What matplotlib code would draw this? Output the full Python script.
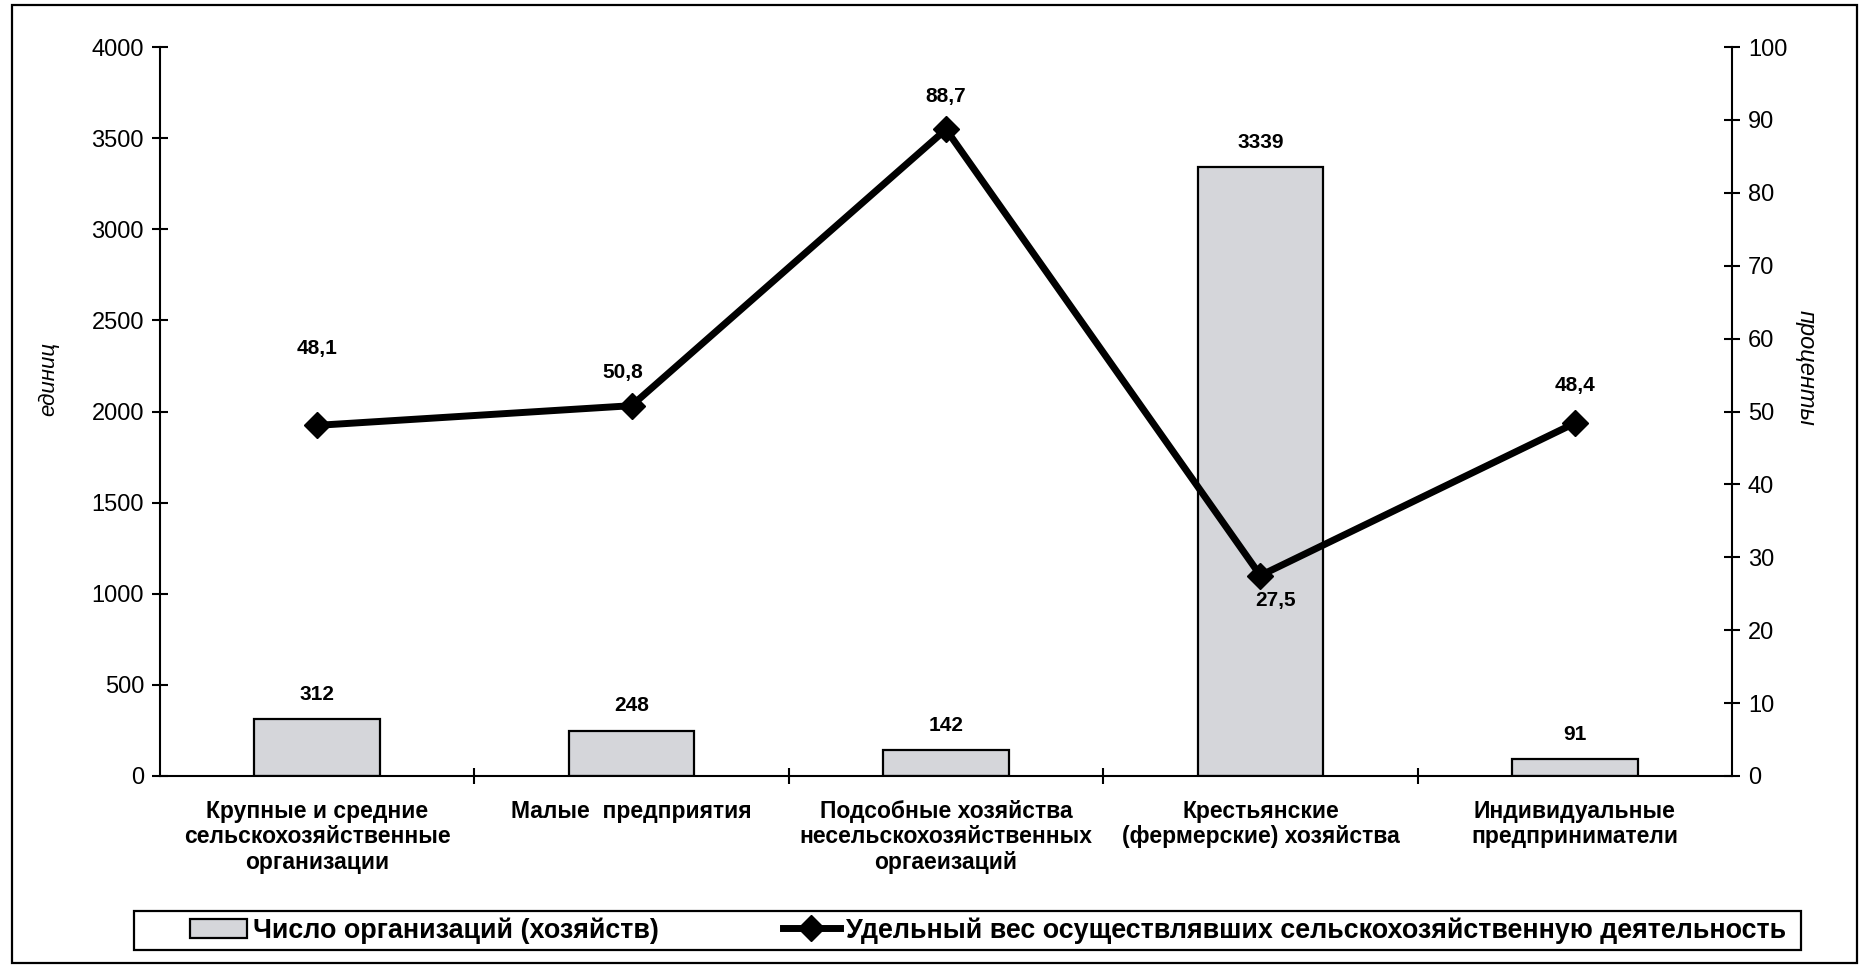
import matplotlib
matplotlib.use("Agg")
import matplotlib.pyplot as plt
from matplotlib.patches import Rectangle
import numpy as np

plt.rcParams["font.family"] = ["Liberation Sans", "DejaVu Sans"]

# ---------------------------------------------------
# Data
# ---------------------------------------------------

categories = [
    "Крупные и средние\nсельскохозяйственные\nорганизации",
    "Малые  предприятия",
    "Подсобные хозяйства\nнесельскохозяйственных\nоргаеизаций",
    "Крестьянские\n(фермерские) хозяйства",
    "Индивидуальные\nпредприниматели",
]
counts = [312, 248, 142, 3339, 91]
shares = [48.1, 50.8, 88.7, 27.5, 48.4]
share_labels = ["48,1", "50,8", "88,7", "27,5", "48,4"]

bar_name = "Число организаций (хозяйств)"
line_name = "Удельный вес осуществлявших сельскохозяйственную деятельность"

# label offsets for the line values (points)
share_offsets = [(0, 55), (-6, 24), (0, 24), (11, -18), (0, 27)]

# ---------------------------------------------------
# Figure
# ---------------------------------------------------

W, H = 1861, 968
fig = plt.figure(figsize=(W / 100, H / 100), dpi=100)
ax = fig.add_axes([160 / W, 1 - 776 / H, (1732 - 160) / W, (776 - 47) / H])
ax2 = ax.twinx()

x = np.arange(len(categories))

bars = ax.bar(x, counts, width=0.4, color="#d5d6da",
              edgecolor="black", linewidth=1.6, label=bar_name, zorder=2)

for xi, v in zip(x, counts):
    ax.annotate(str(v), (xi, v), xytext=(0, 18), textcoords="offset points",
                ha="center", va="center", fontsize=15, fontweight="bold")

line, = ax2.plot(x, shares, color="black", linewidth=5, marker="D",
                 markersize=13, label=line_name, zorder=3)

for xi, v, s, off in zip(x, shares, share_labels, share_offsets):
    ax2.annotate(s, (xi, v), xytext=off, textcoords="offset points",
                 ha="center", va="center", fontsize=15, fontweight="bold")

# axes styling
ax.set_xlim(-0.5, len(categories) - 0.5)
ax.set_ylim(0, 4000)
ax.set_yticks(np.arange(0, 4001, 500))
ax2.set_ylim(0, 100)
ax2.set_yticks(np.arange(0, 101, 10))

for a in (ax, ax2):
    a.spines["top"].set_visible(False)
    for s in a.spines.values():
        s.set_linewidth(1.5)
ax.spines["right"].set_visible(False)
ax2.spines["left"].set_visible(False)
ax2.spines["bottom"].set_visible(False)

ax.tick_params(axis="y", direction="inout", length=11, width=1.5,
               labelsize=17, pad=6)
ax2.tick_params(axis="y", direction="inout", length=11, width=1.5,
                labelsize=17, pad=6)

ax.set_xticks(x)
ax.set_xticklabels(categories, fontsize=16.5, fontweight="bold",
                   linespacing=1.15)
ax.tick_params(axis="x", which="major", length=0, pad=17)
ax.set_xticks(x[:-1] + 0.5, minor=True)
ax.tick_params(axis="x", which="minor", direction="inout", length=12,
               width=1.5)

ax.set_ylabel("единиц", fontsize=16, style="italic")
ax.yaxis.set_label_coords(-0.064, 0.545)
ax2.set_ylabel("проценты", fontsize=17, style="italic", rotation=270,
               va="center")
ax2.yaxis.set_label_coords(1.047, 0.56)

ax.set_zorder(1)
ax2.set_zorder(2)
ax.patch.set_visible(False)

# legend (frame drawn separately)
fig.legend(
    handles=[bars, line],
    loc="center left",
    bbox_to_anchor=(190 / W, 1 - 930.5 / H),
    ncol=2,
    borderaxespad=0,
    borderpad=0,
    frameon=False,
    columnspacing=4.6,
    handlelength=2.1,
    handletextpad=0.25,
    prop={"size": 19.4, "weight": "bold"},
)
fig.patches.append(Rectangle((134 / W, 1 - 950 / H), (1801 - 134) / W, 39 / H,
                             transform=fig.transFigure, fill=False,
                             edgecolor="black", linewidth=1.6))

# outer frame
fig.patches.append(Rectangle((12 / W, 5 / H), (1857 - 12) / W, (963 - 5) / H,
                             transform=fig.transFigure, fill=False,
                             edgecolor="black", linewidth=1.6))

plt.savefig("out.png", dpi=100)
